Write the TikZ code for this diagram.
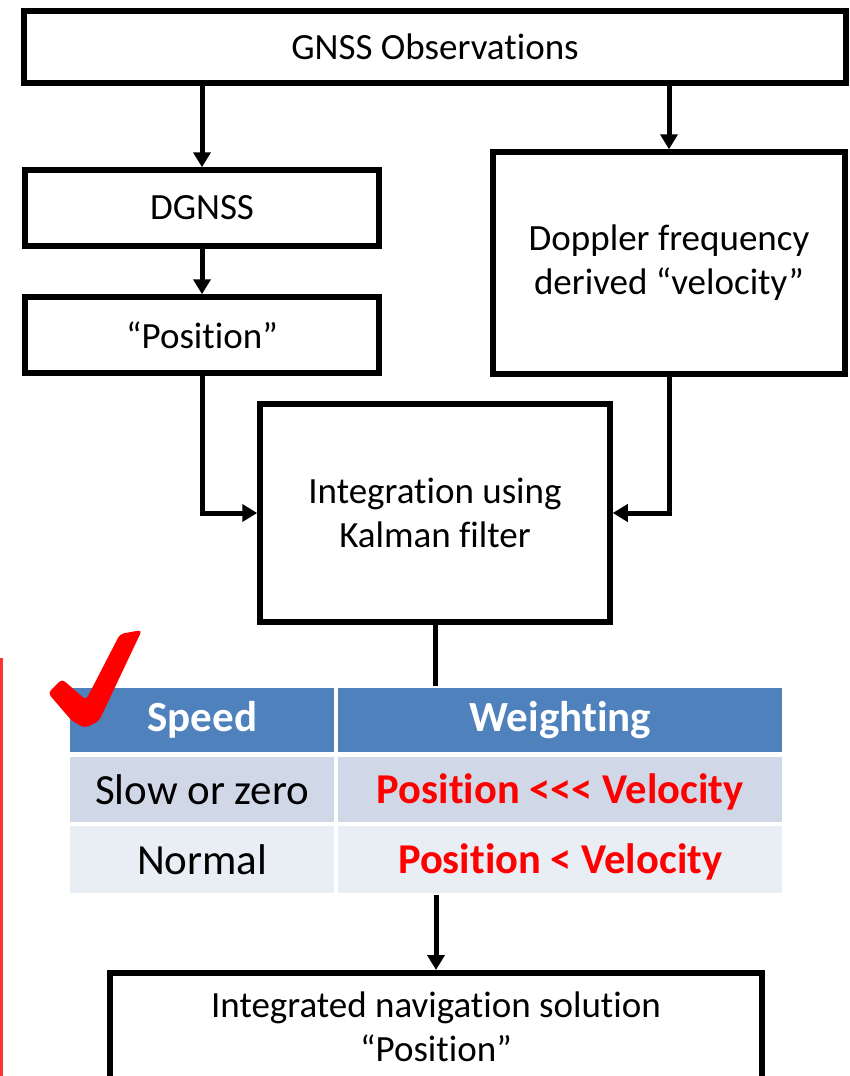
\documentclass[tikz,border=0pt]{standalone}
\usepackage{fontspec}
\setmainfont{Carlito}[RawFeature={-liga;-clig;-dlig}]
\usetikzlibrary{arrows.meta}
\newcommand\tI{t\kern0pt i}
\definecolor{hdr}{HTML}{4F81BD}
\definecolor{rowa}{HTML}{D0D8E8}
\definecolor{rowb}{HTML}{E9EDF4}
\definecolor{wred}{HTML}{FF0000}
\definecolor{sidered}{HTML}{FF3333}
\begin{document}
\begin{tikzpicture}[x=1pt,y=-1pt,
  box/.style={draw=black, line width=5.5pt, fill=white, align=center, inner sep=0pt,
    font=\fontsize{37}{44}\selectfont},
  arr/.style={line width=5pt, -{Triangle[length=15pt,width=17pt]}},
  ln/.style={line width=5pt},
  cell/.style={inner sep=0pt, anchor=north west, font=\fontsize{43}{48}\selectfont},
  hcell/.style={cell, fill=hdr, text=white, font=\fontsize{43}{48}\selectfont\bfseries},
  wtext/.style={text=wred, font=\fontsize{42.5}{48}\selectfont\bfseries},
]
\clip (0,0) rectangle (850,1076);
\fill[white] (0,0) rectangle (850,1076);

% boxes
\node[box, minimum width=822pt, minimum height=72pt] (gnss) at (435,47) {GNSS Observa\tI ons};
\node[box, minimum width=354pt, minimum height=76pt] (dgnss) at (202,208) {DGNSS};
\node[box, minimum width=354pt, minimum height=76pt] (pos) at (202,335) {“Posi\tI on”};
\node[box, minimum width=352pt, minimum height=222pt] (dop) at (669,263) {Doppler frequency\\derived “velocity”};
\node[box, minimum width=350pt, minimum height=218pt] (kal) at (435,513) {Integra\tI on using\\Kalman filter};
\node[box, minimum width=652pt, minimum height=140pt, anchor=north] (nav) at (436,970) {};
\node[inner sep=0pt, align=center, font=\fontsize{37}{44}\selectfont, anchor=north] (navtxt) at (436,992)
  {Integrated naviga\tI on solu\tI on\\“Posi\tI on”};

% table
\node[hcell, minimum width=264pt, minimum height=64pt] (h1) at (70,688) {\raisebox{-3pt}{Speed}};
\node[hcell, minimum width=444pt, minimum height=64pt] (h2) at (338,688) {\raisebox{-3pt}{Weigh\tI ng}};
\node[cell, fill=rowa, minimum width=264pt, minimum height=65pt] (a1) at (70,757) {\raisebox{-2pt}{Slow or zero}};
\node[cell, fill=rowa, minimum width=444pt, minimum height=65pt] (a2) at (338,757) {};
\node[wtext, yshift=-2pt] (a2t) at (a2.center) {Posi\tI on {<}{<}{<} Velocity};
\node[cell, fill=rowb, minimum width=264pt, minimum height=67pt] (b1) at (70,826) {\raisebox{-2pt}{Normal}};
\node[cell, fill=rowb, minimum width=444pt, minimum height=67pt] (b2) at (338,826) {};
\node[wtext, yshift=-2pt] (b2t) at (b2.center) {Posi\tI on {<} Velocity};

% connectors
\draw[arr] (gnss.south -| dgnss.north) -- (dgnss.north);
\draw[arr] (gnss.south -| dop.north) -- (dop.north);
\draw[arr] (dgnss.south) -- (pos.north);
\draw[arr] (pos.south) |- (kal.west);
\draw[arr] (dop.south) |- (kal.east);
\coordinate (tabtop) at (435,686);
\draw[ln] (kal.south) -- (tabtop);
\coordinate (tabbot) at (436,895);
\draw[arr] (tabbot) -- (nav.north);

% red side line
\draw[sidered, line width=2.5pt] (1.5,658) -- (1.5,1080);

% check mark
\fill[wred, rounded corners=4pt]
  (48,693) -- (62,679) -- (86,700) -- (120,634) -- (142,630)
  -- (99,721) -- (85,728) -- (72,721) -- cycle;
\end{tikzpicture}
\end{document}
